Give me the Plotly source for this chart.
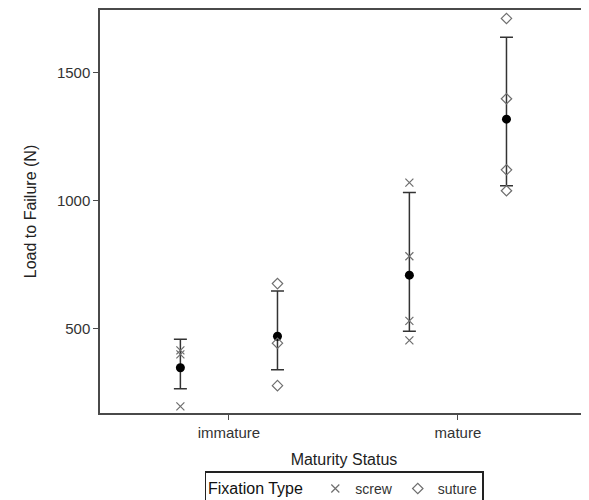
import plotly.graph_objects as go

categories = ["immature", "mature"]
cat_pos = [0, 1]
offset = 0.212

# individual observations
screw_immature = [414, 398, 195]
suture_immature = [675, 442, 276]
screw_mature = [1070, 782, 529, 453]
suture_mature = [1712, 1398, 1120, 1038]

# group means and interval limits (screw imm, suture imm, screw mat, suture mat)
mean_vals = [346, 469, 708, 1318]
upper_vals = [457, 646, 1031, 1638]
lower_vals = [264, 338, 489, 1058]

y_ticks = [500, 1000, 1500]

font_family = "Liberation Sans, Arial, sans-serif"
grey = "#6e6e6e"
axis_col = "#4a4a4a"

fig = go.Figure()

screw_x = [cat_pos[0] - offset] * len(screw_immature) + [cat_pos[1] - offset] * len(screw_mature)
screw_y = screw_immature + screw_mature
suture_x = [cat_pos[0] + offset] * len(suture_immature) + [cat_pos[1] + offset] * len(suture_mature)
suture_y = suture_immature + suture_mature

mean_x = [cat_pos[0] - offset, cat_pos[0] + offset, cat_pos[1] - offset, cat_pos[1] + offset]

fig.add_trace(go.Scatter(
    x=mean_x, y=mean_vals, mode="markers",
    marker=dict(symbol="circle", size=9, color="black"),
    error_y=dict(type="data", symmetric=False,
                 array=[u - m for u, m in zip(upper_vals, mean_vals)],
                 arrayminus=[m - l for m, l in zip(mean_vals, lower_vals)],
                 color="#333333", thickness=1.5, width=6.5),
    showlegend=False, hoverinfo="y"))

fig.add_trace(go.Scatter(
    x=screw_x, y=screw_y, mode="markers", name="screw",
    marker=dict(symbol="x-thin-open", size=8, color=grey,
                line=dict(color=grey, width=1.2))))
fig.add_trace(go.Scatter(
    x=suture_x, y=suture_y, mode="markers", name="suture",
    marker=dict(symbol="diamond-open", size=8, color=grey,
                line=dict(color=grey, width=1.2))))

fig.update_layout(
    width=581, height=492,
    margin=dict(l=92, r=1, t=2, b=87, autoexpand=False),
    paper_bgcolor="white", plot_bgcolor="white",
    font=dict(family=font_family, size=15, color="#222222"),
    xaxis=dict(range=[-0.563, 1.568], tickvals=cat_pos, ticktext=categories,
               showgrid=False, zeroline=False, showline=True, mirror=True,
               linecolor=axis_col, linewidth=1.5, ticks="outside", ticklen=5,
               tickcolor=axis_col, tickfont=dict(size=15, color="#333333"),
               title=dict(text="Maturity Status", font=dict(size=16, color="#222222"), standoff=14)),
    yaxis=dict(range=[169, 1745], tickvals=y_ticks,
               showgrid=False, zeroline=False, showline=True, mirror=True,
               linecolor=axis_col, linewidth=1.5, ticks="outside", ticklen=5,
               tickcolor=axis_col, tickfont=dict(size=15, color="#333333"),
               title=dict(text="Load to Failure (N)", font=dict(size=16, color="#222222"), standoff=16)),
    legend=dict(orientation="h", x=0.5, xanchor="center", y=-0.145, yanchor="top",
                bordercolor="#222222", borderwidth=1.5, bgcolor="white",
                title=dict(text="Fixation Type ", font=dict(size=16, color="#111111")),
                font=dict(size=14, color="#333333"), itemwidth=30,
                tracegroupgap=0),
)

fig.write_html("out.html")
